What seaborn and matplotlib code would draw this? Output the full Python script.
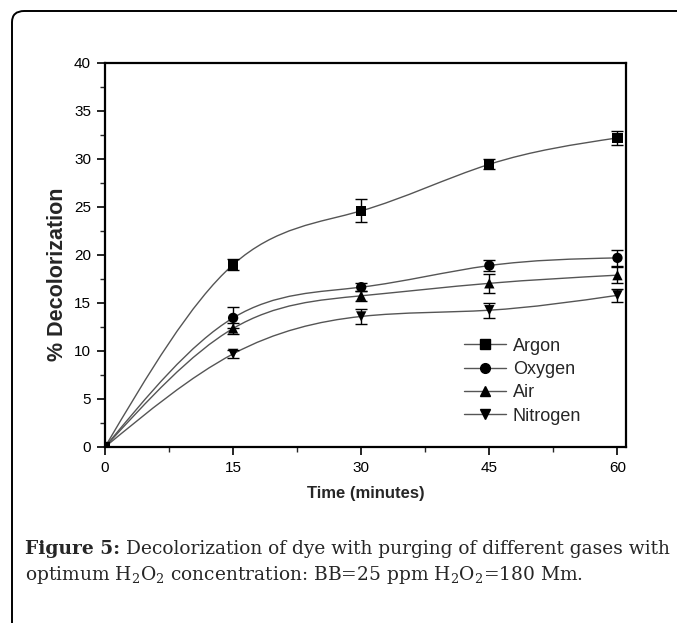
import numpy as np
import pandas as pd
import seaborn as sns
import matplotlib
matplotlib.use("Agg")
import matplotlib.pyplot as plt
from matplotlib import font_manager
from matplotlib.path import Path
from matplotlib.patches import PathPatch, FancyBboxPatch
from matplotlib.lines import Line2D
from matplotlib.ticker import MultipleLocator

# ---- data -------------------------------------------------------------
time_min = [0, 15, 30, 45, 60]
gases = ["Argon", "Oxygen", "Air", "Nitrogen"]
argon = [0.0, 19.0, 24.6, 29.45, 32.2]
oxygen = [0.0, 13.45, 16.65, 18.9, 19.7]
air = [0.0, 12.35, 15.75, 17.05, 17.9]
nitrogen = [0.0, 9.7, 13.6, 14.25, 15.8]
argon_err = [0.0, 0.6, 1.2, 0.5, 0.75]
oxygen_err = [0.0, 1.1, 0.4, 0.6, 0.8]
air_err = [0.0, 0.6, 0.5, 1.0, 0.8]
nitrogen_err = [0.0, 0.4, 0.8, 0.8, 0.7]
markers = {"Argon": "s", "Oxygen": "o", "Air": "^", "Nitrogen": "v"}
x_ticks = [0, 15, 30, 45, 60]
y_ticks = [0, 5, 10, 15, 20, 25, 30, 35, 40]

series = {"Argon": argon, "Oxygen": oxygen, "Air": air, "Nitrogen": nitrogen}
errors = {"Argon": argon_err, "Oxygen": oxygen_err, "Air": air_err,
          "Nitrogen": nitrogen_err}
df = pd.DataFrame([
    {"time": t, "value": v, "err": e, "gas": g}
    for g in gases for t, v, e in zip(time_min, series[g], errors[g])
])

# ---- fonts ------------------------------------------------------------
available = {f.name for f in font_manager.fontManager.ttflist}
sans = "Liberation Sans Narrow" if "Liberation Sans Narrow" in available else "Liberation Sans"
serif = "DejaVu Serif"

sns.set_theme(style="ticks")
plt.rcParams["font.family"] = [sans, "DejaVu Sans"]

W, H = 677, 623
fig = plt.figure(figsize=(W / 100, H / 100), dpi=100)
ax = fig.add_axes([105 / W, 1 - 447 / H, (626 - 105) / W, (447 - 63) / H])


def spline_path(x, y):
    """Natural cubic spline through (x, y) expressed as Bezier segments."""
    x = np.asarray(x, float)
    y = np.asarray(y, float)
    n = len(x)
    h = np.diff(x)
    A = np.zeros((n, n))
    r = np.zeros(n)
    A[0, 0] = A[-1, -1] = 1.0
    for i in range(1, n - 1):
        A[i, i - 1] = h[i - 1]
        A[i, i] = 2 * (h[i - 1] + h[i])
        A[i, i + 1] = h[i]
        r[i] = 6 * ((y[i + 1] - y[i]) / h[i] - (y[i] - y[i - 1]) / h[i - 1])
    M = np.linalg.solve(A, r)
    slope = np.empty(n)
    for i in range(n - 1):
        slope[i] = (y[i + 1] - y[i]) / h[i] - h[i] * (2 * M[i] + M[i + 1]) / 6
    slope[-1] = (y[-1] - y[-2]) / h[-1] + h[-1] * (M[-2] + 2 * M[-1]) / 6
    verts = [(x[0], y[0])]
    codes = [Path.MOVETO]
    for i in range(n - 1):
        d = h[i] / 3
        verts += [(x[i] + d, y[i] + d * slope[i]),
                  (x[i + 1] - d, y[i + 1] - d * slope[i + 1]),
                  (x[i + 1], y[i + 1])]
        codes += [Path.CURVE4] * 3
    return Path(verts, codes)


line_color = "#555555"
for g in gases:
    sub = df[df.gas == g]
    ax.add_patch(PathPatch(spline_path(sub.time, sub.value), facecolor="none",
                           edgecolor=line_color, lw=1.0, zorder=2))
    ax.errorbar(sub.time[1:], sub.value[1:], yerr=sub.err[1:], fmt="none",
                ecolor="black", elinewidth=1.0, capsize=4, capthick=1.0, zorder=3)

sns.scatterplot(data=df, x="time", y="value", style="gas", markers=markers,
                style_order=gases, color="black", edgecolor="black", s=55,
                linewidth=0, legend=False, ax=ax, zorder=4)

ax.set_xlim(0, 61)
ax.set_ylim(0, 40)
ax.set_xticks(x_ticks)
ax.set_yticks(y_ticks)
ax.xaxis.set_minor_locator(MultipleLocator(7.5))
ax.yaxis.set_minor_locator(MultipleLocator(2.5))
ax.tick_params(axis="both", which="major", direction="out", length=6, width=1.2,
               labelsize=11, colors="black", pad=4)
ax.tick_params(axis="both", which="minor", direction="out", length=3.5, width=1.0)
for s in ax.spines.values():
    s.set_visible(True)
    s.set_linewidth(1.6)
    s.set_color("black")
ax.set_xlabel("Time (minutes)", fontsize=12, fontweight="bold",
              family=["Liberation Sans", "DejaVu Sans"], labelpad=8)
ax.set_ylabel("% Decolorization", fontsize=15.5, fontweight="bold",
              family=["Liberation Sans", "DejaVu Sans"])
ax.yaxis.set_label_coords(-37 / 521, 0.45)

handles = [Line2D([0], [0], color=line_color, lw=1.0, marker=markers[g],
                  markersize=7, markerfacecolor="black", markeredgecolor="black")
           for g in gases]
ax.legend(handles, gases, loc="upper left", bbox_to_anchor=(359 / 521, 0.285),
          borderaxespad=0, borderpad=0, frameon=False, handlelength=2.3,
          handletextpad=0.4, labelspacing=0.35,
          prop={"family": ["Liberation Sans", "DejaVu Sans"], "size": 13})

# ---- outer frame ------------------------------------------------------
frame = FancyBboxPatch((12 / W, -0.2), 1.2, 1 - 11 / H + 0.2,
                       boxstyle="round,pad=0,rounding_size=0.018",
                       transform=fig.transFigure, facecolor="none",
                       edgecolor="black", lw=1.4, clip_on=False)
fig.patches.append(frame)

# ---- caption ----------------------------------------------------------
renderer = fig.canvas.get_renderer()
cap_left = 25
cap_right = 675
lead = "Figure 5:"
body1 = "Decolorization of dye with purging of different gases with"
body2 = (r"optimum $\mathregular{H_2O_2}$ concentration: BB=25 ppm "
         r"$\mathregular{H_2O_2}$=180 Mm.")


def place_caption(size):
    t1 = fig.text(cap_left / W, 1 - 554 / H, lead, fontsize=size,
                  fontweight="bold", family=[serif], va="baseline")
    bb = t1.get_window_extent(renderer=renderer)
    t2 = fig.text((bb.x1 + 6) / W, 1 - 554 / H, body1, fontsize=size,
                  family=[serif], va="baseline")
    t3 = fig.text(cap_left / W, 1 - 580 / H, body2, fontsize=size,
                  family=[serif], va="baseline")
    return [t1, t2, t3]


size = 14.0
texts = place_caption(size)
right = texts[1].get_window_extent(renderer=renderer).x1
for t in texts:
    t.remove()
size = size * (cap_right - cap_left) / (right - cap_left)
place_caption(size)

fig.savefig("out.png", dpi=100)
